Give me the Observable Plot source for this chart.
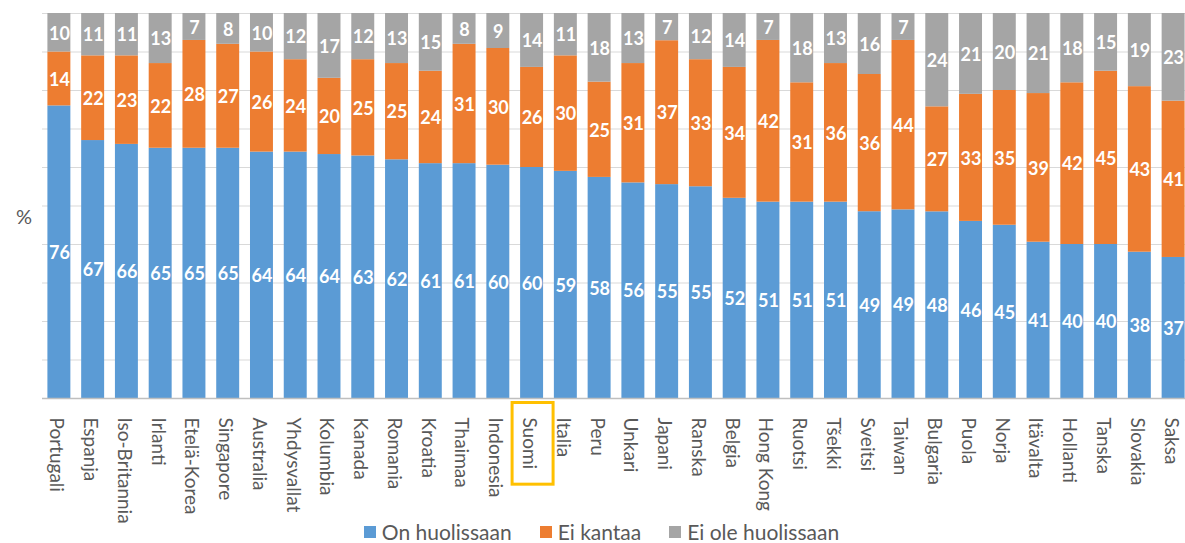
<!DOCTYPE html>
<html>
<head>
<meta charset="utf-8">
<script src="https://cdn.jsdelivr.net/npm/d3@7"></script>
<script src="https://cdn.jsdelivr.net/npm/@observablehq/plot@0.6"></script>
<style>
  html, body { margin: 0; padding: 0; background: #fff; }
  body { width: 1185px; height: 543px; overflow: hidden; font-family: Lato, "Open Sans", sans-serif; position: relative; }
  #chart { position: absolute; left: 0; top: 0; }
  #legend { position: absolute; left: 0; top: 522px; width: 1185px; display: flex; justify-content: center; align-items: center; height: 20px; line-height: 20px; padding-left: 18px; box-sizing: border-box; font-size: 21px; color: #595959; }
  #legend .item { display: flex; align-items: center; margin: 0 14px; }
  #legend .sw { width: 12px; height: 12px; margin-right: 6px; }
  #pct { position: absolute; left: 16px; top: 204px; font-size: 20px; color: #595959; }
</style>
</head>
<body>
<div id="chart"></div>
<div id="pct">%</div>
<div id="legend"></div>
<script>
const countries = ["Portugali","Espanja","Iso-Britannia","Irlanti","Etelä-Korea","Singapore","Australia","Yhdysvallat","Kolumbia","Kanada","Romania","Kroatia","Thaimaa","Indonesia","Suomi","Italia","Peru","Unkari","Japani","Ranska","Belgia","Hong Kong","Ruotsi","Tšekki","Sveitsi","Taiwan","Bulgaria","Puola","Norja","Itävalta","Hollanti","Tanska","Slovakia","Saksa"];
const onHuolissaan = [76,67,66,65,65,65,64,64,64,63,62,61,61,60,60,59,58,56,55,55,52,51,51,51,49,49,48,46,45,41,40,40,38,37];
const eiKantaa =     [14,22,23,22,28,27,26,24,20,25,25,24,31,30,26,30,25,31,37,33,34,42,31,36,36,44,27,33,35,39,42,45,43,41];
const eiOle =        [10,11,11,13,7,8,10,12,17,12,13,15,8,9,14,11,18,13,7,12,14,7,18,13,16,7,24,21,20,21,18,15,19,23];
const seriesNames = ["On huolissaan","Ei kantaa","Ei ole huolissaan"];
const seriesColors = ["#5B9BD5","#ED7D31","#A5A5A5"];
const highlight = "Suomi";

const seriesValues = [onHuolissaan, eiKantaa, eiOle];
const rows = countries.flatMap((c, i) => seriesNames.map((s, k) => ({country: c, series: s, value: seriesValues[k][i]})));

const chart = Plot.plot({
  width: 1185,
  height: 543,
  marginLeft: 42,
  marginRight: -5,
  marginTop: 13,
  marginBottom: 145,
  style: {fontFamily: "Lato, 'Open Sans', sans-serif", background: "transparent"},
  x: {domain: countries, paddingInner: 0.32, paddingOuter: 0.16, round: false, label: null},
  y: {domain: [0, 1], axis: null},
  color: {domain: seriesNames, range: seriesColors},
  marks: [
    Plot.gridY({ticks: d3.range(0.1, 1.001, 0.1), stroke: "#D9D9D9", strokeOpacity: 1, strokeWidth: 1}),
    Plot.barY(rows, Plot.stackY({offset: "normalize", x: "country", y: "value", fill: "series"})),
    Plot.text(rows, Plot.stackY({offset: "normalize", x: "country", y: "value", text: "value", fill: "white", fontWeight: "bold", fontSize: 18, dy: 1})),
    Plot.ruleY([0], {stroke: "#BFBFBF", strokeWidth: 1.5}),
    Plot.axisX({tickRotate: 90, tickSize: 0, tickPadding: 19, dx: -3, fontSize: 19, color: "#595959", label: null})
  ]
});

document.getElementById("chart").appendChild(chart);

// highlight box around the selected country's tick label
const svg = d3.select(chart);
const svgRect = chart.getBoundingClientRect();
const xs = chart.scale("x");
const cx = xs.apply(highlight) + xs.bandwidth / 2;
svg.selectAll("text").each(function() {
  if (this.textContent === highlight) {
    const r = this.getBoundingClientRect();
    const padX = 9, padY = 15;
    const w = r.width + 2 * padX;
    svg.append("rect")
      .attr("x", cx + 1 - w / 2)
      .attr("y", r.top - svgRect.top - padY)
      .attr("width", w)
      .attr("height", r.height + 2 * padY)
      .attr("fill", "none")
      .attr("stroke", "#FFC000")
      .attr("stroke-width", 3);
  }
});

const legend = d3.select("#legend");
seriesNames.forEach((s, k) => {
  const it = legend.append("div").attr("class", "item");
  it.append("div").attr("class", "sw").style("background", seriesColors[k]);
  it.append("span").text(s);
});
</script>
</body>
</html>
